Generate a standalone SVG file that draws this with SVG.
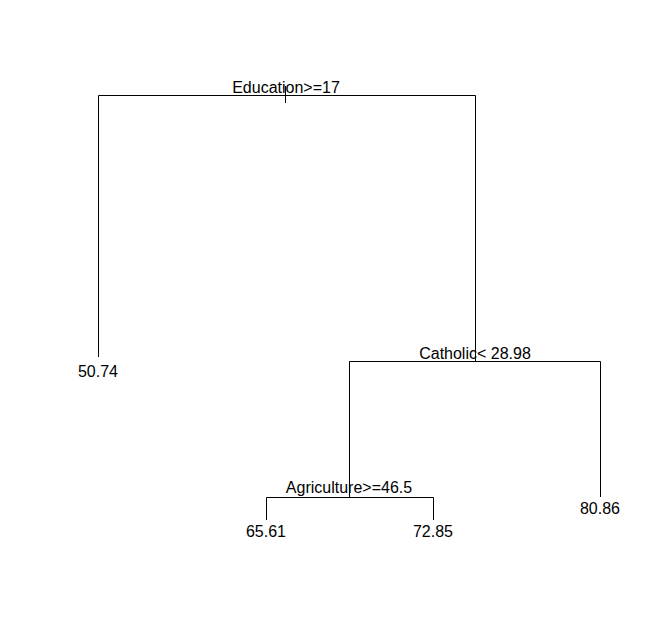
<svg xmlns="http://www.w3.org/2000/svg" width="661" height="636" viewBox="0 0 661 636">
<style>
.e{stroke:#000;stroke-width:1;fill:none}
text{font-family:"Liberation Sans",Arial,sans-serif;font-size:16px;fill:#000;text-anchor:middle}
</style>
<rect width="661" height="636" fill="#fff"/>
<g id="connectors">
<path class="e" d="M285.5,86V103"/>
<path class="e" d="M98.5,357V95.5H475.5V361"/>
<path class="e" d="M349.5,497V361.5H600.5V497"/>
<path class="e" d="M266.5,520V497.5H433.5V520"/>
</g>
<g id="n1"><text x="286" y="93">Education&gt;=17</text></g>
<g id="n2"><text x="98" y="377">50.74</text></g>
<g id="n3"><text x="475" y="359">Catholic&lt; 28.98</text></g>
<g id="n4"><text x="349" y="493">Agriculture&gt;=46.5</text></g>
<g id="n5"><text x="266" y="537">65.61</text></g>
<g id="n6"><text x="433" y="537">72.85</text></g>
<g id="n7"><text x="600" y="514">80.86</text></g>
</svg>
